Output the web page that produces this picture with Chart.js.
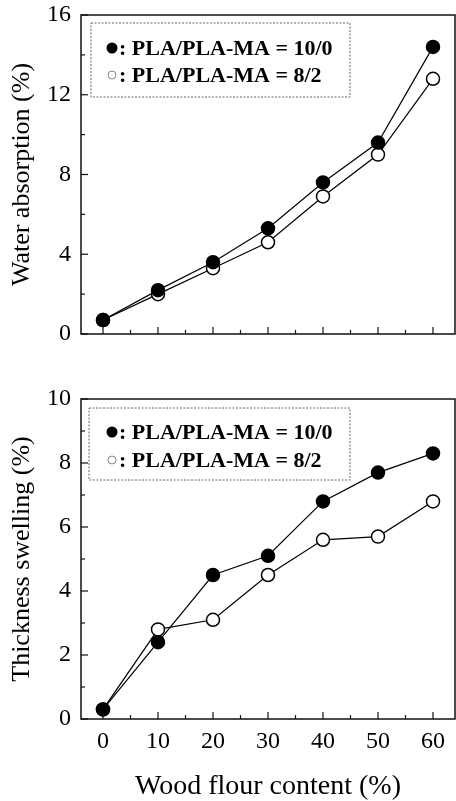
<!DOCTYPE html>
<html>
<head>
<meta charset="utf-8">
<script src="https://cdn.jsdelivr.net/npm/chart.js@4/dist/chart.umd.min.js"></script>
<style>
  html, body { margin: 0; padding: 0; background: #fff; }
  #wrap { position: relative; width: 456px; height: 801px; overflow: hidden; }
  canvas { position: absolute; left: 0; }
  #cTop { top: 0; }
  #cBot { top: 370px; }
</style>
</head>
<body>
<div id="wrap">
  <canvas id="cTop" width="456" height="370"></canvas>
  <canvas id="cBot" width="456" height="431"></canvas>
</div>
<script>
'use strict';
// Wood flour content (%) on x, two stacked panels sharing the same x axis.
const WOOD = [0, 10, 20, 30, 40, 50, 60];
const X_TICKS = [0, 10, 20, 30, 40, 50, 60];
const X_MINOR = [5, 15, 25, 35, 45, 55];

// Water absorption (%)
const WA_PURE = [0.7, 2.2, 3.6, 5.3, 7.6, 9.6, 14.4];   // PLA/PLA-MA = 10/0
const WA_MA = [0.7, 2.0, 3.3, 4.6, 6.9, 9.0, 12.8];     // PLA/PLA-MA = 8/2
const WA_TICKS = [0, 4, 8, 12, 16];
const WA_MINOR = [2, 6, 10, 14];

// Thickness swelling (%)
const TS_PURE = [0.3, 2.4, 4.5, 5.1, 6.8, 7.7, 8.3];
const TS_MA = [0.3, 2.8, 3.1, 4.5, 5.6, 5.7, 6.8];
const TS_TICKS = [0, 2, 4, 6, 8, 10];
const TS_MINOR = [1, 3, 5, 7, 9];

const LEG_LABELS = [': PLA/PLA-MA = 10/0', ': PLA/PLA-MA = 8/2'];

const SERIF = "'Liberation Serif', 'DejaVu Serif', serif";
const pts = ys => WOOD.map((x, i) => ({ x, y: ys[i] }));
const noPad = s => { s.paddingLeft = 0; s.paddingRight = 0; s.paddingTop = 0; s.paddingBottom = 0; };

// Plot frame + inward major/minor tick marks on left and bottom axes.
const frameTicks = {
  id: 'frameTicks',
  afterDatasetsDraw(chart, args, o) {
    const { ctx, chartArea: a, scales: { x, y } } = chart;
    ctx.save();
    ctx.strokeStyle = '#111'; ctx.lineWidth = 1.5;
    ctx.strokeRect(a.left, a.top, a.right - a.left, a.bottom - a.top);
    ctx.lineWidth = 1.2;
    const tx = (v, len) => { const p = x.getPixelForValue(v); ctx.beginPath(); ctx.moveTo(p, a.bottom); ctx.lineTo(p, a.bottom - len); ctx.stroke(); };
    const ty = (v, len) => { const p = y.getPixelForValue(v); ctx.beginPath(); ctx.moveTo(a.left, p); ctx.lineTo(a.left + len, p); ctx.stroke(); };
    X_TICKS.forEach(v => tx(v, 7)); X_MINOR.forEach(v => tx(v, 4));
    o.yMajor.forEach(v => ty(v, 7)); o.yMinor.forEach(v => ty(v, 4));
    ctx.restore();
  },
};

// Boxed legend drawn inside the plot area (upper left).
const boxLegend = {
  id: 'boxLegend',
  afterDraw(chart, args, o) {
    const { ctx } = chart;
    const [x1, y1, x2, y2] = o.box;
    ctx.save();
    ctx.strokeStyle = '#666'; ctx.lineWidth = 1; ctx.setLineDash([2, 1.5]);
    ctx.strokeRect(x1, y1, x2 - x1, y2 - y1);
    ctx.setLineDash([]);
    ctx.font = `bold 22px ${SERIF}`; ctx.fillStyle = '#000'; ctx.textBaseline = 'middle';
    o.rows.forEach((ry, i) => {
      ctx.beginPath();
      if (i === 0) { ctx.arc(o.mx, ry, 5.5, 0, Math.PI * 2); ctx.fillStyle = '#000'; ctx.fill(); }
      else { ctx.arc(o.mx, ry, 4, 0, Math.PI * 2); ctx.strokeStyle = '#888'; ctx.lineWidth = 1; ctx.stroke(); }
      ctx.fillStyle = '#000';
      ctx.fillText(LEG_LABELS[i], o.mx + 7, ry + 1);
    });
    ctx.restore();
  },
};

function mk(id, cfg) { return new Chart(document.getElementById(id).getContext('2d'), cfg); }

function panel(id, pure, ma, yMax, yStep, yMajor, yMinor, yTitle, showX, xH, padTop, legend) {
  const ds = (data, fill) => ({
    data: pts(data), borderColor: '#000', borderWidth: 1.2, tension: 0,
    pointRadius: 6.5, pointHoverRadius: 6.5, pointBackgroundColor: fill, pointBorderColor: '#000', pointBorderWidth: 1.5,
  });
  return mk(id, {
    type: 'line',
    data: { datasets: [ds(pure, '#000'), ds(ma, '#fff')] },
    options: {
      responsive: false, animation: false, events: [],
      layout: { autoPadding: false, padding: { top: padTop, right: 1, left: 0, bottom: 0 } },
      plugins: { legend: { display: false }, tooltip: { enabled: false },
        frameTicks: { yMajor, yMinor }, boxLegend: legend },
      scales: {
        x: {
          type: 'linear', min: -4, max: 64,
          grid: { display: false, drawTicks: false }, border: { display: false },
          afterBuildTicks: s => { s.ticks = X_TICKS.map(v => ({ value: v })); },
          ticks: { display: showX, padding: 8, color: '#000', font: { family: SERIF, size: 24 } },
          title: { display: showX, text: 'Wood flour content (%)', color: '#000', font: { family: SERIF, size: 28, lineHeight: 1 }, padding: { top: 0, bottom: 0 } },
          afterFit: s => { s.height = xH; noPad(s); },
        },
        y: {
          min: 0, max: yMax,
          grid: { display: false, drawTicks: false }, border: { display: false },
          ticks: { stepSize: yStep, padding: 10, color: '#000', font: { family: SERIF, size: 24 } },
          title: { display: true, text: yTitle, color: '#000', font: { family: SERIF, size: 26 }, padding: { top: 7, bottom: 0 } },
          afterFit: s => { s.width = 81; noPad(s); },
        },
      },
    },
    plugins: [frameTicks, boxLegend],
  });
}

panel('cTop', WA_PURE, WA_MA, 16, 4, WA_TICKS, WA_MINOR, 'Water absorption (%)', false, 36, 15,
  { box: [91, 23, 350, 97], rows: [48, 75], mx: 112 });
panel('cBot', TS_PURE, TS_MA, 10, 2, TS_TICKS, TS_MINOR, 'Thickness swelling (%)', true, 82, 29,
  { box: [89, 38, 350, 110], rows: [62, 90], mx: 112 });
</script>
</body>
</html>
